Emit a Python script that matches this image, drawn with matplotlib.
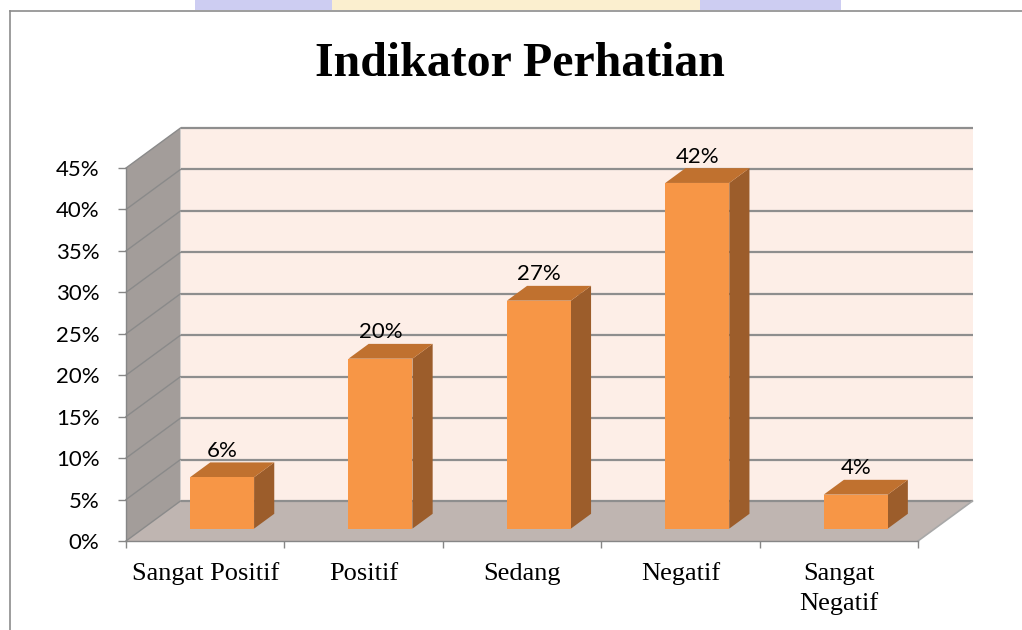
import matplotlib
matplotlib.use("Agg")
import matplotlib.pyplot as plt
from matplotlib.patches import Polygon, Rectangle
from matplotlib.lines import Line2D

# ---- data ----
categories = ["Sangat Positif", "Positif", "Sedang", "Negatif", "Sangat\nNegatif"]
values = [6.2, 20.5, 27.5, 41.7, 4.1]
value_labels = ["6%", "20%", "27%", "42%", "4%"]
yticks = [0, 5, 10, 15, 20, 25, 30, 35, 40, 45]
title = "Indikator Perhatian"

# ---- figure ----
W, H = 1022, 630
fig = plt.figure(figsize=(W / 100, H / 100), dpi=100)
fig.patch.set_facecolor("white")

ax_l, ax_r, ax_top, ax_bot = 126, 918, 168, 541
ax = fig.add_axes([ax_l / W, (H - ax_bot) / H, (ax_r - ax_l) / W, (ax_bot - ax_top) / H])
ax.set_xlim(0, len(categories))
ax.set_ylim(0, 45)
ax.patch.set_visible(False)

px_x = (ax_r - ax_l) / len(categories)      # pixels per category
px_y = (ax_bot - ax_top) / 45.0              # pixels per percent
DX = 54.5 / px_x                             # depth offset in data units
DY = 40.0 / px_y

def P(x, y, d):
    return (x + d * DX, y + d * DY)

ymax = 45
n = len(categories)
grid_c = "#8E8E8E"

# back wall
ax.add_patch(Polygon([P(0, 0, 1), P(n, 0, 1), P(n, ymax, 1), P(0, ymax, 1)],
                     closed=True, facecolor="#FDEEE7", edgecolor="none", clip_on=False, zorder=1))
# floor
ax.add_patch(Polygon([P(0, 0, 0), P(n, 0, 0), P(n, 0, 1), P(0, 0, 1)],
                     closed=True, facecolor="#BFB5B1", edgecolor="none", clip_on=False, zorder=1))
# side wall
ax.add_patch(Polygon([P(0, 0, 0), P(0, 0, 1), P(0, ymax, 1), P(0, ymax, 0)],
                     closed=True, facecolor="#A39D9A", edgecolor="none", clip_on=False, zorder=1))

# gridlines
for v in yticks:
    (x0, y0), (x1, y1) = P(0, v, 1), P(n, v, 1)
    ax.add_line(Line2D([x0, x1], [y0, y1], color=grid_c, lw=1.6, clip_on=False, zorder=2,
                       solid_capstyle="butt"))
    (x0, y0), (x1, y1) = P(0, v, 0), P(0, v, 1)
    ax.add_line(Line2D([x0, x1], [y0, y1], color="#8A8A8A", lw=1.0, clip_on=False, zorder=2))
# floor right edge
(x0, y0), (x1, y1) = P(n, 0, 0), P(n, 0, 1)
ax.add_line(Line2D([x0, x1], [y0, y1], color="#A8A8A8", lw=1.2, clip_on=False, zorder=2))

# bars
bw = 0.404
d0, d1 = 0.31, 0.68
front_c, top_c, side_c = "#F79646", "#C0712F", "#9C5D2B"
for i, v in enumerate(values):
    xc = i + 0.5
    xl, xr = xc - bw / 2, xc + bw / 2
    ax.add_patch(Polygon([P(xr, 0, d0), P(xr, v, d0), P(xr, v, d1), P(xr, 0, d1)],
                         closed=True, facecolor=side_c, edgecolor="none", clip_on=False, zorder=3))
    ax.add_patch(Polygon([P(xl, v, d0), P(xr, v, d0), P(xr, v, d1), P(xl, v, d1)],
                         closed=True, facecolor=top_c, edgecolor="none", clip_on=False, zorder=3))
    ax.bar(xc + d0 * DX, v, bottom=d0 * DY, width=bw, color=front_c, edgecolor="none",
           zorder=4, clip_on=False)
    lx, ly = P(xc, v, d1)
    ax.text(xc + d0 * DX, ly + 5.5 / px_y, value_labels[i], ha="center", va="baseline",
            fontsize=16, family="Lato", color="black", zorder=5)

# axes styling
for s in ("top", "right"):
    ax.spines[s].set_visible(False)
for s in ("left", "bottom"):
    ax.spines[s].set_color("#868686")
    ax.spines[s].set_linewidth(1.0)
    ax.spines[s].set_zorder(6)
ax.set_yticks(yticks)
ax.set_yticklabels([f"{t}%" for t in yticks], family="Lato", fontsize=16)
ax.tick_params(axis="y", direction="out", length=6, width=1, color="#868686", pad=13)
ax.set_xticks(range(n + 1))
ax.set_xticklabels([])
ax.tick_params(axis="x", direction="out", length=5, width=1, color="#868686")

# category labels
for i, lab in enumerate(categories):
    for k, line in enumerate(lab.split("\n")):
        ax.text(i + 0.5, -(39 + 30 * k) / px_y, line, ha="center", va="baseline",
                fontsize=19, family="Liberation Serif", color="black", clip_on=False)

# title
fig.text(520 / W, 1 - 76 / H, title, ha="center", va="baseline", fontsize=34.5,
         fontweight="bold", family="Liberation Serif", color="black")

# watermark strip at the top
fig.add_artist(Rectangle((195 / W, 1 - 10 / H), (841 - 195) / W, 10 / H,
                         transform=fig.transFigure, facecolor="#CDCDF2", edgecolor="none"))
fig.add_artist(Rectangle((332 / W, 1 - 10 / H), (700 - 332) / W, 10 / H,
                         transform=fig.transFigure, facecolor="#FBEFCF", edgecolor="none"))
# chart border
fig.add_artist(Line2D([9.5 / W, 9.5 / W], [0, 1 - 10.5 / H], transform=fig.transFigure,
                      color="#8C8C8C", lw=1.2))
fig.add_artist(Line2D([9.5 / W, 1.0], [1 - 10.5 / H, 1 - 10.5 / H], transform=fig.transFigure,
                      color="#8C8C8C", lw=1.2))

fig.savefig("out.png", dpi=100)
